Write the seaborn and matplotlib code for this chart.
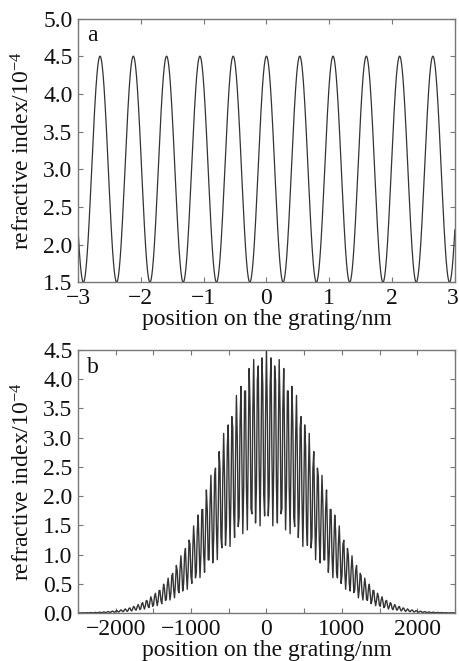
import numpy as np
import pandas as pd
import matplotlib
matplotlib.use("Agg")
import matplotlib.pyplot as plt
import matplotlib.transforms as mtransforms
import seaborn as sns

# ---- values ----
# panel a: sinusoidal index modulation
grating_period_nm = 0.53        # peak-to-peak spacing in panel a
mean_index = 3.0                # centre of the oscillation (x1e-4)
modulation_amp = 1.5            # half peak-to-trough (x1e-4)
xa_range = [-3, 3]
# panel b: Gaussian apodised grating
gauss_sigma_nm = 650            # envelope width
xb_range = [-2500, 2500]
xb_samples = 415                # coarse sampling of the plotted curve (gives the visible pattern)

ya_ticks = [1.5, 2.0, 2.5, 3.0, 3.5, 4.0, 4.5, 5.0]
xa_ticks = [-3, -2, -1, 0, 1, 2, 3]
yb_ticks = [0.0, 0.5, 1.0, 1.5, 2.0, 2.5, 3.0, 3.5, 4.0, 4.5]
xb_ticks = [-2500, -2000, -1500, -1000, -500, 0, 500, 1000, 1500, 2000, 2500]
xb_ticklabels = ["", "−2000", "", "−1000", "", "0", "", "1000", "", "2000", ""]

xlabel = "position on the grating/nm"
ylabel = "refractive index/10$^{−4}$"

# ---- build the curves ----
xa = np.linspace(xa_range[0], xa_range[1], 3001)
ya = mean_index + modulation_amp * np.cos(2 * np.pi * xa / grating_period_nm)
df_a = pd.DataFrame({"x": xa, "y": ya})

xb = np.linspace(xb_range[0], xb_range[1], xb_samples)
env = np.exp(-xb**2 / (2 * gauss_sigma_nm**2))
yb = env * (mean_index + modulation_amp * np.cos(2 * np.pi * xb / grating_period_nm))
df_b = pd.DataFrame({"x": xb, "y": yb})

sns.set_style("ticks")
plt.rcParams["font.family"] = ["Liberation Serif", "DejaVu Serif"]
plt.rcParams["mathtext.fontset"] = "custom"
plt.rcParams["mathtext.rm"] = "Liberation Serif"
plt.rcParams["mathtext.it"] = "Liberation Serif:italic"
plt.rcParams["axes.unicode_minus"] = True

fig = plt.figure(figsize=(4.59, 6.61), dpi=100)
ax1 = fig.add_axes([0.170, 0.573, 0.821, 0.399])
ax2 = fig.add_axes([0.170, 0.0726, 0.821, 0.398])

line_col = "#333333"
frame_col = "#777777"
fs = 17

sns.lineplot(data=df_a, x="x", y="y", ax=ax1, color=line_col, linewidth=0.9,
             estimator=None, sort=False)
sns.lineplot(data=df_b, x="x", y="y", ax=ax2, color=line_col, linewidth=1.0,
             estimator=None, sort=False)

ax1.set_xlim(*xa_range)
ax1.set_ylim(1.5, 5.0)
ax1.set_xticks(xa_ticks)
ax1.set_xticklabels([str(t).replace("-", "−") for t in xa_ticks])
ax1.set_yticks(ya_ticks)
ax1.set_yticklabels([f"{t:.1f}" for t in ya_ticks])

ax2.set_xlim(*xb_range)
ax2.set_ylim(0, 4.5)
ax2.set_xticks(xb_ticks)
ax2.set_xticklabels(xb_ticklabels)
ax2.set_yticks(yb_ticks)
ax2.set_yticklabels([f"{t:.1f}" for t in yb_ticks])

for ax, letter in ((ax1, "a"), (ax2, "b")):
    ax.set_xlabel(xlabel, fontsize=fs, labelpad=0, color="#111111")
    ax.set_ylabel(ylabel, fontsize=fs, labelpad=6, color="#111111")
    ax.tick_params(axis="x", pad=4)
    ax.tick_params(axis="y", pad=4)
    ax.tick_params(axis="both", direction="in", length=3.5, width=0.8,
                   top=True, right=True, labelsize=fs,
                   colors=frame_col, labelcolor="#111111")
    for s in ax.spines.values():
        s.set_visible(True)
        s.set_color(frame_col)
        s.set_linewidth(1.0)
    ax.text(0.025, 0.975, letter, transform=ax.transAxes, ha="left", va="top",
            fontsize=fs, color="#111111")

# keep the right-most tick label of panel a inside the figure
last = ax1.get_xticklabels()[-1]
last.set_transform(last.get_transform() +
                   mtransforms.ScaledTranslation(-2.5 / 100, 0, fig.dpi_scale_trans))

fig.savefig("out.png", dpi=100)
